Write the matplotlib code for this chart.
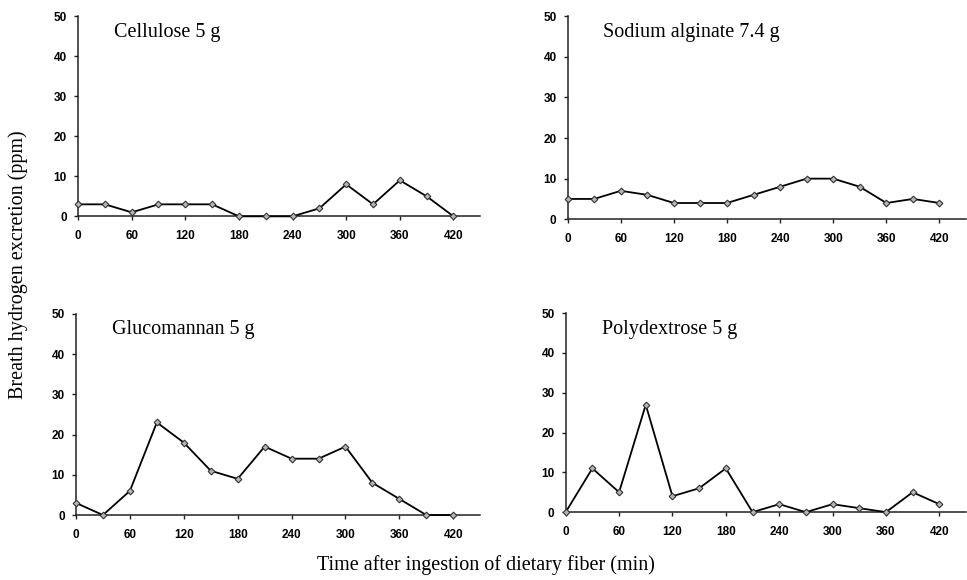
import matplotlib
matplotlib.use("Agg")
import matplotlib.pyplot as plt

# sampling times (min) and breath hydrogen (ppm) per fiber
time_min = [0, 30, 60, 90, 120, 150, 180, 210, 240, 270, 300, 330, 360, 390, 420]
cellulose = [3, 3, 1, 3, 3, 3, 0, 0, 0, 2, 8, 3, 9, 5, 0]
sodium_alginate = [5, 5, 7, 6, 4, 4, 4, 6, 8, 10, 10, 8, 4, 5, 4]
glucomannan = [3, 0, 6, 23, 18, 11, 9, 17, 14, 14, 17, 8, 4, 0, 0]
polydextrose = [0, 11, 5, 27, 4, 6, 11, 0, 2, 0, 2, 1, 0, 5, 2]

titles = ["Cellulose 5 g", "Sodium alginate 7.4 g", "Glucomannan 5 g", "Polydextrose 5 g"]
series = [cellulose, sodium_alginate, glucomannan, polydextrose]
x_ticks = [0, 60, 120, 180, 240, 300, 360, 420]
y_ticks = [0, 10, 20, 30, 40, 50]

serif = ["Liberation Serif", "DejaVu Serif"]
tick_font = {"family": ["Liberation Sans Narrow", "Liberation Sans", "DejaVu Sans"],
             "weight": "bold", "size": 8.5}

fig = plt.figure(figsize=(9.67, 5.8), dpi=100, facecolor="white")

# [left, bottom, width, height] for each panel
boxes = [
    (0.0807, 0.627, 0.416, 0.345),
    (0.587, 0.622, 0.412, 0.350),
    (0.0786, 0.112, 0.418, 0.347),
    (0.585, 0.117, 0.414, 0.343),
]

for box, title, values in zip(boxes, titles, series):
    ax = fig.add_axes(box)
    ax.plot(time_min, values, color="black", lw=1.3,
            marker="D", markersize=3.4, markerfacecolor="#b5b5b5",
            markeredgecolor="#333333", markeredgewidth=0.8, clip_on=False, zorder=3)
    ax.set_xlim(0, 450)
    ax.set_ylim(0, 50)
    ax.set_xticks(x_ticks)
    ax.set_yticks(y_ticks)
    ax.set_xticklabels([str(t) for t in x_ticks], fontdict=tick_font)
    ax.set_yticklabels([str(t) for t in y_ticks], fontdict=tick_font)
    ax.tick_params(axis="both", direction="out", length=3, width=1.0, color="#222222")
    ax.tick_params(axis="x", pad=7)
    ax.tick_params(axis="y", pad=5)
    for side in ("top", "right"):
        ax.spines[side].set_visible(False)
    for side in ("left", "bottom"):
        ax.spines[side].set_linewidth(1.1)
        ax.spines[side].set_color("#222222")
    ax.text(0.09, 0.92, title, transform=ax.transAxes, family=serif,
            fontsize=14.5, ha="left", va="center")

fig.text(0.019, 0.543, "Breath hydrogen excretion (ppm)", rotation=90,
         family=serif, fontsize=14.5, ha="center", va="center")
fig.text(0.503, 0.025, "Time after ingestion of dietary fiber (min)",
         family=serif, fontsize=14.5, ha="center", va="center")

fig.savefig("out.png", dpi=100, facecolor="white")
